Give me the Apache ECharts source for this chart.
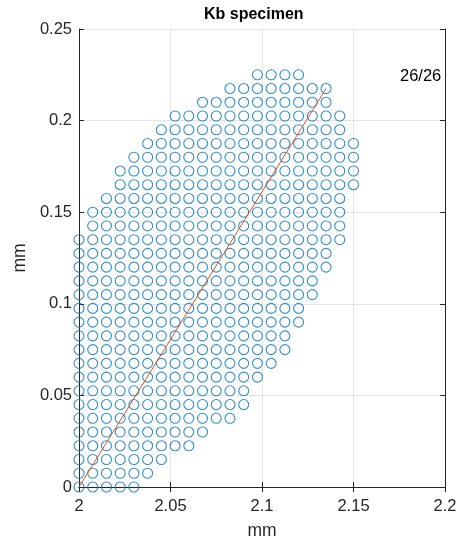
<!DOCTYPE html>
<html>
<head>
<meta charset="utf-8">
<style>
  html, body { margin: 0; padding: 0; background: #ffffff; }
  #chart { width: 466px; height: 547px; }
</style>
<script src="https://cdn.jsdelivr.net/npm/echarts@6/dist/echarts.min.js"></script>
</head>
<body>
<div id="chart"></div>
<script>
// Sampling grid columns (mm) and rows (mm)
const gridX = [2, 2.0075, 2.015, 2.0225, 2.03, 2.0375, 2.045, 2.0525, 2.06, 2.0675, 2.075,
  2.0825, 2.09, 2.0975, 2.105, 2.1125, 2.12, 2.1275, 2.135, 2.1425, 2.15];
const gridY = [0, 0.0075, 0.015, 0.0225, 0.03, 0.0375, 0.045, 0.0525, 0.06, 0.0675, 0.075,
  0.0825, 0.09, 0.0975, 0.105, 0.1125, 0.12, 0.1275, 0.135, 0.1425, 0.15, 0.1575, 0.165,
  0.1725, 0.18, 0.1875, 0.195, 0.2025, 0.21, 0.2175, 0.225];
// First and last occupied column index in each row (bottom to top)
const rowFirst = [0, 0, 0, 0, 0, 0, 0, 0, 0, 0, 0, 0, 0, 0, 0, 0, 0, 0, 0, 1, 1, 2, 3, 3, 4, 5, 6, 7, 9, 11, 13];
const rowLast = [4, 5, 6, 8, 9, 11, 12, 12, 13, 14, 15, 15, 16, 16, 17, 17, 18, 18, 19, 19, 19, 19, 20, 20, 20, 20, 19, 19, 18, 18, 16];
// Fitted direction line
const lineX = [2, 2.135];
const lineY = [0, 0.2175];
// Axis ticks
const xTicks = [2, 2.05, 2.1, 2.15, 2.2];
const yTicks = [0, 0.05, 0.1, 0.15, 0.2, 0.25];
const countText = '26/26';

const points = [];
gridY.forEach((y, r) => {
  for (let c = rowFirst[r]; c <= rowLast[r]; c++) points.push([gridX[c], y]);
});

const FONT = '"Liberation Sans", Arial, Helvetica, sans-serif';
const AX = '#262626';
const fmt = v => String(+(+v).toFixed(3));

const chart = echarts.init(document.getElementById('chart'), null, { renderer: 'canvas' });
const grid = { left: 79, top: 29, width: 366, height: 458 };

const baseX = {
  type: 'value', min: xTicks[0], max: xTicks[xTicks.length - 1], interval: 0.05,
  axisLine: { show: true, lineStyle: { color: AX, width: 1 } },
  axisTick: { show: true, inside: true, length: 5, lineStyle: { color: AX } },
  splitLine: { show: false }
};
const baseY = {
  type: 'value', min: yTicks[0], max: yTicks[yTicks.length - 1], interval: 0.05,
  axisLine: { show: true, lineStyle: { color: AX, width: 1 } },
  axisTick: { show: true, inside: true, length: 5, lineStyle: { color: AX } },
  splitLine: { show: false }
};

chart.setOption({
  animation: false,
  title: {
    text: 'Kb specimen', left: 199, top: 2,
    textStyle: { fontFamily: FONT, fontSize: 16, fontWeight: 'bold', color: '#000' }
  },
  grid: grid,
  xAxis: [
    Object.assign({}, baseX, {
      position: 'bottom',
      splitLine: { show: true, lineStyle: { color: '#e5e5e5', width: 1 } },
      axisLabel: { show: true, margin: 11, formatter: fmt, color: AX, fontFamily: FONT, fontSize: 16.5 },
      name: 'mm', nameLocation: 'middle', nameGap: 35,
      nameTextStyle: { color: AX, fontFamily: FONT, fontSize: 17.5 }
    }),
    Object.assign({}, baseX, { position: 'top', axisLabel: { show: false } })
  ],
  yAxis: [
    Object.assign({}, baseY, {
      position: 'left',
      splitLine: { show: true, lineStyle: { color: '#e5e5e5', width: 1 } },
      axisLabel: { show: true, margin: 7, formatter: fmt, color: AX, fontFamily: FONT, fontSize: 16.5 },
      name: 'mm', nameLocation: 'middle', nameGap: 48,
      nameTextStyle: { color: AX, fontFamily: FONT, fontSize: 17.5 }
    }),
    Object.assign({}, baseY, { position: 'right', axisLabel: { show: false } })
  ],
  graphic: [{
    type: 'text', left: 400, top: 68,
    style: { text: countText, fill: '#000', font: '16.5px ' + FONT }
  }],
  series: [
    {
      type: 'scatter', xAxisIndex: 0, yAxisIndex: 0,
      data: points,
      symbol: 'circle', symbolSize: 10,
      itemStyle: { color: 'rgba(0,0,0,0)', borderColor: '#0072BD', borderWidth: 1.1 },
      emphasis: { disabled: true },
      z: 2
    },
    {
      type: 'line', xAxisIndex: 0, yAxisIndex: 0,
      data: lineX.map((x, i) => [x, lineY[i]]),
      symbol: 'none',
      lineStyle: { color: '#D95319', width: 1 },
      z: 3
    }
  ]
});
</script>
</body>
</html>
